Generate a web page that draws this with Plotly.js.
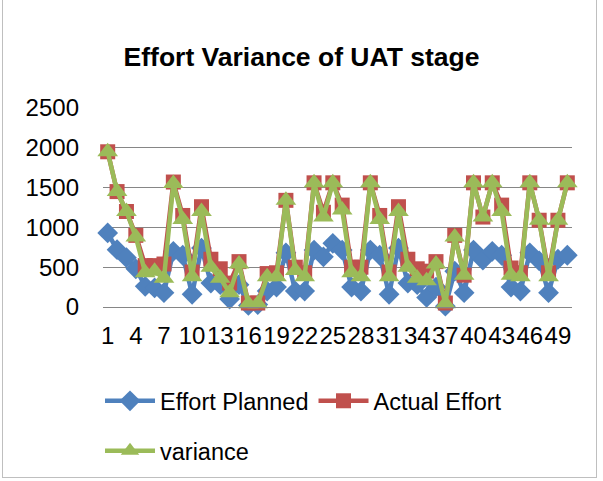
<!DOCTYPE html>
<html>
<head>
<meta charset="utf-8">
<script src="https://cdn.plot.ly/plotly-3.0.1.min.js"></script>
<style>
  html, body { margin: 0; padding: 0; background: #fff; }
  #frame { position: absolute; left: 2px; top: -2px; width: 595px; height: 480px; border: 1px solid #bfbfbf; box-sizing: border-box; }
  #chart { position: absolute; left: 0; top: 0; width: 603px; height: 481px; }
</style>
</head>
<body>
<div id="chart"></div>
<div id="frame"></div>
<script>
// Categories 1..50
const categories = [1,2,3,4,5,6,7,8,9,10,11,12,13,14,15,16,17,18,19,20,21,22,23,24,25,26,27,28,29,30,31,32,33,34,35,36,37,38,39,40,41,42,43,44,45,46,47,48,49,50];

const effortPlanned = [930,720,620,480,260,240,180,700,650,160,740,300,280,100,280,20,30,200,250,680,200,200,715,630,800,715,250,200,715,650,160,740,300,280,120,250,10,450,180,715,590,700,650,250,200,680,580,180,600,650];

const actualEffort = [1950,1450,1200,900,520,520,540,1570,1150,440,1260,600,480,300,570,50,50,420,430,1340,500,430,1560,1190,1560,1280,500,500,1560,1150,440,1260,600,480,450,570,50,900,400,1560,1130,1560,1280,490,430,1560,1090,430,1090,1560];

const variance = [1950,1450,1200,880,430,450,360,1550,1100,380,1200,500,360,180,540,40,40,380,380,1340,460,380,1560,1130,1560,1220,430,380,1560,1100,380,1200,500,360,330,540,40,880,400,1560,1130,1560,1200,400,380,1560,1090,380,1090,1560];

const xTickVals = [1,4,7,10,13,16,19,22,25,28,31,34,37,40,43,46,49];
const xTickText = ["1","4","7","10","13","16","19","22","25","28","31","34","37","40","43","46","49"];
const yTickVals = [0,500,1000,1500,2000,2500];

const FONT = "'Liberation Sans', Arial, sans-serif";

const traces = [
  { x: categories, y: effortPlanned, name: "Effort Planned", type: "scatter", mode: "lines+markers",
    line: { color: "#4F81BD", width: 4.5 }, marker: { symbol: "diamond", size: 16, color: "#4F81BD" },
    cliponaxis: false, legend: "legend" },
  { x: categories, y: actualEffort, name: "Actual Effort", type: "scatter", mode: "lines+markers",
    line: { color: "#C0504D", width: 4.5 }, marker: { symbol: "square", size: 15, color: "#C0504D" },
    cliponaxis: false, legend: "legend" },
  { x: categories, y: variance, name: "variance", type: "scatter", mode: "lines+markers",
    line: { color: "#9BBB59", width: 4.5 }, marker: { symbol: "triangle-up", size: 18, color: "#9BBB59" },
    cliponaxis: false, legend: "legend2" }
];

const layout = {
  width: 603, height: 481,
  margin: { l: 103, r: 31, t: 108, b: 174 },
  paper_bgcolor: "#fff", plot_bgcolor: "#fff",
  font: { family: FONT, color: "#000", size: 23 },
  title: { text: "<b>Effort Variance of UAT stage</b>", font: { family: FONT, size: 26.5, color: "#000" },
           x: 0.5, xref: "container", xanchor: "center", y: 1 - 57/481, yref: "container", yanchor: "middle" },
  xaxis: { range: [0.5, 50.5], tickmode: "array", tickvals: xTickVals, ticktext: xTickText,
           showgrid: false, zeroline: false, showline: true, linecolor: "#868686", linewidth: 1,
           ticks: "", tickangle: 0, tickfont: { family: FONT, size: 24, color: "#000" }, ticklabelstandoff: 7,
           fixedrange: true },
  yaxis: { range: [0, 2500], tickmode: "array", tickvals: yTickVals, showgrid: true, gridcolor: "#868686",
           gridwidth: 1, zeroline: false, showline: false, ticks: "", tickfont: { family: FONT, size: 24, color: "#000" },
           ticklabelstandoff: 23, fixedrange: true },
  showlegend: true,
  legend: { orientation: "h", xref: "container", yref: "container", x: 100/603, y: 1 - 401/481,
            xanchor: "left", yanchor: "middle", font: { family: FONT, size: 23.5, color: "#000" },
            itemwidth: 50, tracegroupgap: 0, bgcolor: "rgba(0,0,0,0)", borderwidth: 0 },
  legend2: { orientation: "h", xref: "container", yref: "container", x: 100/603, y: 1 - 451/481,
            xanchor: "left", yanchor: "middle", font: { family: FONT, size: 23.5, color: "#000" },
            itemwidth: 50, bgcolor: "rgba(0,0,0,0)", borderwidth: 0 }
};

Plotly.newPlot("chart", traces, layout, { displayModeBar: false, staticPlot: true });
</script>
</body>
</html>
